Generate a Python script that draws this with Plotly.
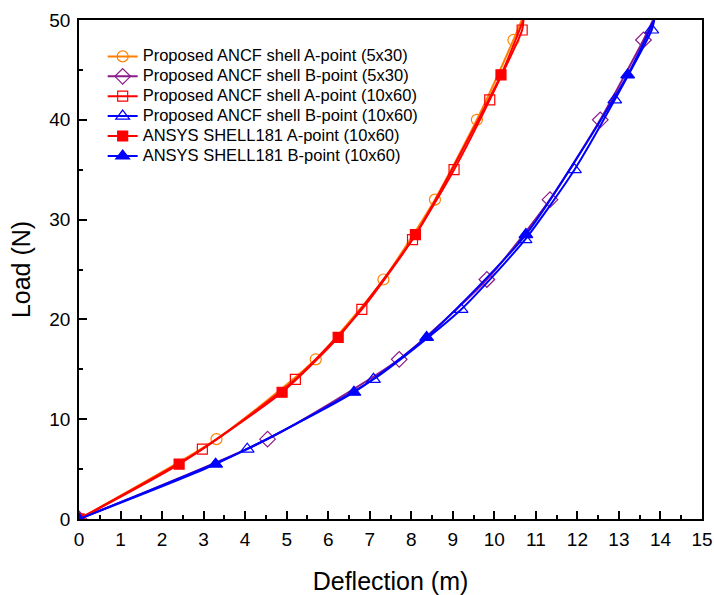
import plotly.graph_objects as go

# Load-deflection results (deflection in m, load in N)
a_5x30_defl = [0.0, 3.31, 5.70, 7.33, 8.57, 9.58, 10.46, 10.66]
a_5x30_load = [0.0, 8.0, 16.0, 24.0, 32.0, 40.0, 48.0, 50.0]

b_5x30_defl = [0.0, 4.54, 7.71, 9.82, 11.34, 12.55, 13.59, 13.82]
b_5x30_load = [0.0, 8.0, 16.0, 24.0, 32.0, 40.0, 48.0, 50.0]

a_10x60_defl = [0.0, 2.97, 5.21, 6.81, 8.03, 9.03, 9.89, 10.67, 10.70]
a_10x60_load = [0.0, 7.0, 14.0, 21.0, 28.0, 35.0, 42.0, 49.0, 50.0]

b_10x60_defl = [0.0, 4.05, 7.09, 9.20, 10.74, 11.93, 12.90, 13.79, 13.85]
b_10x60_load = [0.0, 7.0, 14.0, 21.0, 28.0, 35.0, 42.0, 49.0, 50.0]

ansys_a_defl = [0.0, 2.41, 4.89, 6.24, 8.10, 10.16, 10.70]
ansys_a_load = [0.0, 5.5, 12.7, 18.2, 28.5, 44.5, 50.0]

ansys_b_defl = [0.0, 3.29, 6.62, 8.37, 10.76, 13.21, 13.85]
ansys_b_load = [0.0, 5.5, 12.7, 18.2, 28.5, 44.5, 50.0]

x_ticks = list(range(0, 16))
y_ticks = [0, 10, 20, 30, 40, 50]

series = [
    ("Proposed ANCF shell A-point (5x30)", a_5x30_defl, a_5x30_load,
     "#FF8000", "circle-open", 11),
    ("Proposed ANCF shell B-point (5x30)", b_5x30_defl, b_5x30_load,
     "#8B1A8B", "diamond-open", 12),
    ("Proposed ANCF shell A-point (10x60)", a_10x60_defl, a_10x60_load,
     "#FF0000", "square-open", 10),
    ("Proposed ANCF shell B-point (10x60)", b_10x60_defl, b_10x60_load,
     "#0000FF", "triangle-up-open", 12),
    ("ANSYS SHELL181 A-point (10x60)", ansys_a_defl, ansys_a_load,
     "#FF0000", "square", 10),
    ("ANSYS SHELL181 B-point (10x60)", ansys_b_defl, ansys_b_load,
     "#0000FF", "triangle-up", 12),
]

FONT = "Liberation Sans, Arial"
CLEAR = "rgba(0,0,0,0)"

fig = go.Figure()
for name, xs, ys, color, symbol, size in series:
    # the last sample only closes the curve at the top of the load range,
    # so its symbol is left transparent
    colors = [color] * (len(xs) - 1) + [CLEAR]
    fig.add_trace(go.Scatter(
        x=xs, y=ys, mode="lines+markers",
        name='<span style="font-size:16.5px">' + name + "</span>",
        line=dict(color=color, width=2, shape="spline", smoothing=0.6),
        marker=dict(symbol=symbol, size=size, color=colors,
                    line=dict(color=colors, width=1.2)),
    ))

axis_common = dict(
    showline=True, linecolor="black", linewidth=1.5, mirror=True,
    ticks="inside", ticklen=8, tickwidth=1.5, tickcolor="black",
    showgrid=False, zeroline=False, automargin=False,
    tickfont=dict(family=FONT, size=19, color="black"),
    title_font=dict(family=FONT, size=25, color="black"),
)

fig.update_xaxes(
    range=[0, 15], tickvals=x_ticks, ticktext=[str(v) for v in x_ticks],
    minor=dict(dtick=0.5, ticks="inside", ticklen=4, tickwidth=1.5,
               tickcolor="black"),
    ticklabelstandoff=2,
    title_text="Deflection (m)", title_standoff=24,
    **axis_common,
)
fig.update_yaxes(
    range=[0, 50], tickvals=y_ticks, ticktext=[str(v) for v in y_ticks],
    minor=dict(dtick=5, ticks="inside", ticklen=4, tickwidth=1.5,
               tickcolor="black"),
    ticklabelstandoff=3,
    title_text="Load (N)", title_standoff=12,
    **axis_common,
)

fig.update_layout(
    width=714, height=595,
    margin=dict(l=79, r=12, t=20, b=76),
    paper_bgcolor="white", plot_bgcolor="white",
    font=dict(family=FONT, color="black"),
    legend=dict(
        x=0.038, y=0.957, xanchor="left", yanchor="top",
        bgcolor=CLEAR, borderwidth=0,
        font=dict(family=FONT, size=13, color="black"),
        tracegroupgap=0,
    ),
)

fig.write_html("out.html")
